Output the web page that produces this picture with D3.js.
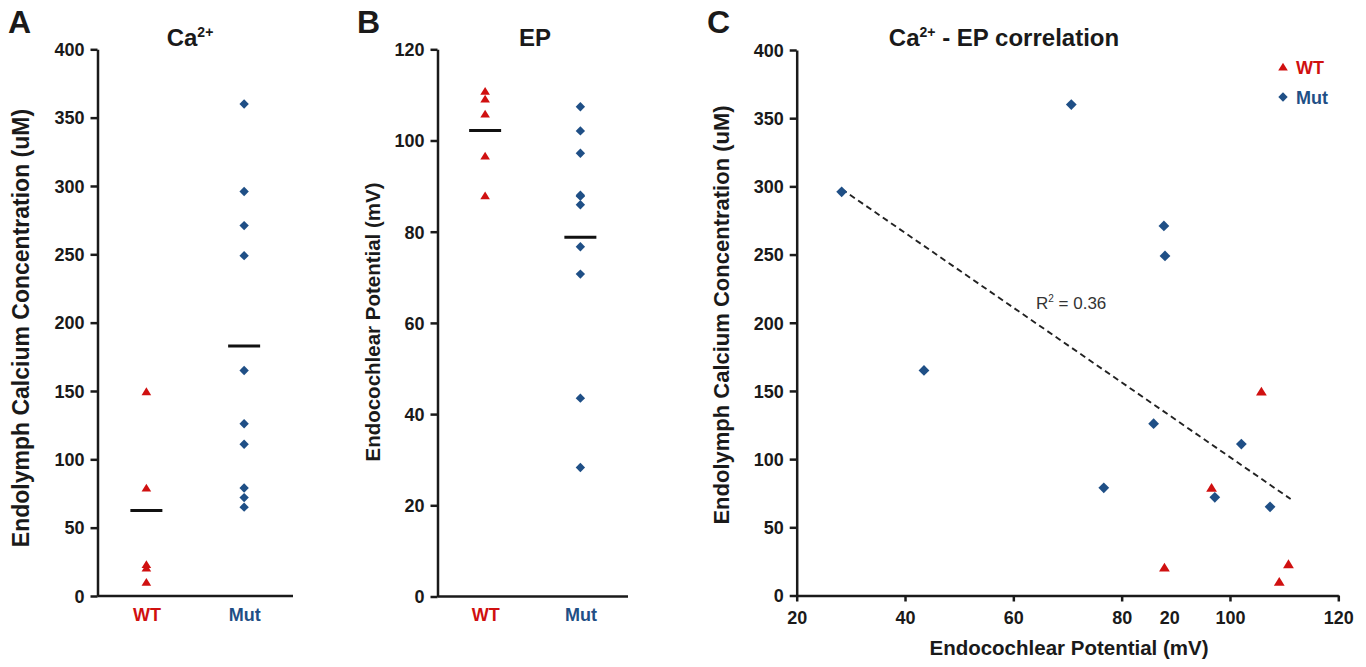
<!DOCTYPE html>
<html>
<head>
<meta charset="utf-8">
<script src="https://cdn.jsdelivr.net/npm/d3@7"></script>
<style>
  html, body { margin: 0; padding: 0; background: #fff; }
  svg { display: block; font-family: "Liberation Sans", Arial, sans-serif; }
  .axis path, .axis line { stroke: #1a1a1a; stroke-width: 2.5px; }
  .axis text { font-size: 18px; font-weight: bold; }
</style>
</head>
<body>
<svg id="chart" width="1366" height="667"></svg>
<script>
// ---------------- data ----------------
const groups = ["WT", "Mut"];
const wtCa = [149.5, 79, 23, 20.5, 10];
const wtEP = [105.8, 96.6, 110.8, 87.9, 109.1];
const mutCa = [360, 296, 271, 249, 165, 126, 111, 79, 72, 65];
const mutEP = [70.7, 28.3, 87.8, 88.0, 43.5, 85.9, 102.1, 76.7, 97.2, 107.4];
const caMeans = [62.5, 183];
const epMeans = [102.2, 78.8];
const caTicks = [0, 50, 100, 150, 200, 250, 300, 350, 400];
const epTicks = [0, 20, 40, 60, 80, 100, 120];
const epXTicks = [20, 40, 60, 80, 100, 120];
const extraXLabels = ["20"];
const extraXLabelAt = [88.9];
const r2Text = "0.36";

// ---------------- styles ----------------
const RED = "#d01010";
const BLUE = "#1f4f86";
const INK = "#1a1a1a";
const groupColor = {WT: RED, Mut: BLUE};

const svg = d3.select("#chart");

const diamond = { draw(ctx, size) { const r = Math.sqrt(size); ctx.moveTo(0, -r); ctx.lineTo(r, 0); ctx.lineTo(0, r); ctx.lineTo(-r, 0); ctx.closePath(); } };
const symDiamond = d3.symbol().type(diamond).size(29)();
const symDiamondSm = d3.symbol().type(diamond).size(22)();
const symTriangle = d3.symbol().type({ draw(ctx) { ctx.moveTo(0, -4.8); ctx.lineTo(5.4, 4); ctx.lineTo(-5.4, 4); ctx.closePath(); } })();
const symTriangleSm = d3.symbol().type({ draw(ctx) { ctx.moveTo(0, -4.3); ctx.lineTo(4.8, 3.5); ctx.lineTo(-4.8, 3.5); ctx.closePath(); } })();

function panelLetter(x, y, t) {
  svg.append("text").attr("x", x).attr("y", y).attr("font-size", 32).attr("font-weight", "bold")
     .attr("fill", INK).text(t);
}
function title(cx, y, parts) {
  const t = svg.append("text").attr("x", cx).attr("y", y).attr("text-anchor", "middle")
     .attr("font-size", 24).attr("font-weight", "bold").attr("fill", INK);
  parts.forEach(p => {
    const ts = t.append("tspan").text(p.t);
    if (p.sup) ts.attr("font-size", 14).attr("dy", -9);
    else if (p.after) ts.attr("dy", 9);
  });
}
function yLabel(x, cy, text, fs) {
  svg.append("text").attr("transform", `translate(${x},${cy}) rotate(-90)`)
     .attr("text-anchor", "middle").attr("font-size", fs).attr("font-weight", "bold")
     .attr("fill", INK).text(text);
}
function styleTicks(g) { g.selectAll("text").style("fill", INK).attr("dy", "0.35em"); }

// ---------------- Panel A ----------------
{
  const x0 = 97.5, x1 = 293, yTop = 49.3, yBot = 596;
  const y = d3.scaleLinear().domain([0, 400]).range([yBot, yTop]);
  const x = d3.scalePoint().domain(groups).range([x0, x1]).padding(0.5);
  svg.append("g").attr("class", "axis").attr("transform", `translate(${x0},0)`)
     .call(d3.axisLeft(y).tickValues(caTicks).tickSize(7).tickSizeOuter(0).tickPadding(6))
     .call(styleTicks);
  svg.append("g").attr("class", "axis").attr("transform", `translate(0,${yBot})`)
     .call(d3.axisBottom(x).tickSize(0).tickSizeOuter(0).tickPadding(12))
     .call(g => g.select(".domain").attr("d", `M${x0},0H${x1}`))
     .call(g => g.selectAll("text").style("fill", d => groupColor[d]));
  svg.append("g").selectAll("path").data(wtCa).join("path")
     .attr("d", symTriangleSm).attr("fill", RED)
     .attr("transform", d => `translate(${x("WT")},${y(d)})`);
  svg.append("g").selectAll("path").data(mutCa).join("path")
     .attr("d", symDiamondSm).attr("fill", BLUE)
     .attr("transform", d => `translate(${x("Mut")},${y(d)})`);
  svg.append("g").selectAll("line").data(caMeans).join("line")
     .attr("x1", (d, i) => x(groups[i]) - 16).attr("x2", (d, i) => x(groups[i]) + 16)
     .attr("y1", d => y(d)).attr("y2", d => y(d))
     .attr("stroke", "#111").attr("stroke-width", 3);
  panelLetter(8, 33, "A");
  title(190, 46, [{t: "Ca"}, {t: "2+", sup: true}]);
  yLabel(29, 328, "Endolymph Calcium Concentration (uM)", 23);
}

// ---------------- Panel B ----------------
{
  const x0 = 437.5, x1 = 628, yTop = 49.3, yBot = 596.5;
  const y = d3.scaleLinear().domain([0, 120]).range([yBot, yTop]);
  const x = d3.scalePoint().domain(groups).range([x0, x1]).padding(0.5);
  svg.append("g").attr("class", "axis").attr("transform", `translate(${x0},0)`)
     .call(d3.axisLeft(y).tickValues(epTicks).tickSize(7).tickSizeOuter(0).tickPadding(6))
     .call(styleTicks);
  svg.append("g").attr("class", "axis").attr("transform", `translate(0,${yBot})`)
     .call(d3.axisBottom(x).tickSize(0).tickSizeOuter(0).tickPadding(12))
     .call(g => g.select(".domain").attr("d", `M${x0},0H${x1}`))
     .call(g => g.selectAll("text").style("fill", d => groupColor[d]));
  svg.append("g").selectAll("path").data(wtEP).join("path")
     .attr("d", symTriangleSm).attr("fill", RED)
     .attr("transform", d => `translate(${x("WT")},${y(d)})`);
  svg.append("g").selectAll("path").data(mutEP).join("path")
     .attr("d", symDiamondSm).attr("fill", BLUE)
     .attr("transform", d => `translate(${x("Mut")},${y(d)})`);
  svg.append("g").selectAll("line").data(epMeans).join("line")
     .attr("x1", (d, i) => x(groups[i]) - 16).attr("x2", (d, i) => x(groups[i]) + 16)
     .attr("y1", d => y(d)).attr("y2", d => y(d))
     .attr("stroke", "#111").attr("stroke-width", 3);
  panelLetter(357, 33, "B");
  title(535, 46, [{t: "EP"}]);
  yLabel(380, 322, "Endocochlear Potential (mV)", 20.5);
}

// ---------------- Panel C ----------------
{
  const x0 = 796.7, x1 = 1338.3, yTop = 50, yBot = 595.5;
  const y = d3.scaleLinear().domain([0, 400]).range([yBot, yTop]);
  const x = d3.scaleLinear().domain([20, 120]).range([x0, x1]);
  svg.append("g").attr("class", "axis").attr("transform", `translate(${x0},0)`)
     .call(d3.axisLeft(y).tickValues(caTicks).tickSize(7).tickSizeOuter(0).tickPadding(6))
     .call(styleTicks);
  svg.append("g").attr("class", "axis").attr("transform", `translate(0,${yBot})`)
     .call(d3.axisBottom(x).tickValues(epXTicks).tickSize(6).tickSizeOuter(0).tickPadding(10))
     .call(g => g.selectAll("text").style("fill", INK));
  svg.append("g").selectAll("text").data(extraXLabels).join("text")
     .attr("x", (d, i) => x(extraXLabelAt[i])).attr("y", yBot + 16).attr("dy", "0.71em")
     .attr("text-anchor", "middle").attr("font-size", 18).attr("font-weight", "bold")
     .attr("fill", INK).text(d => d);

  // least-squares trend over all points
  const pts = wtEP.map((e, i) => [e, wtCa[i]]).concat(mutEP.map((e, i) => [e, mutCa[i]]));
  const mx = d3.mean(pts, p => p[0]), my = d3.mean(pts, p => p[1]);
  const slope = d3.sum(pts, p => (p[0] - mx) * (p[1] - my)) / d3.sum(pts, p => (p[0] - mx) ** 2);
  const icpt = my - slope * mx;
  const [ex0, ex1] = d3.extent(pts, p => p[0]);
  svg.append("line")
     .attr("x1", x(ex0)).attr("y1", y(icpt + slope * ex0))
     .attr("x2", x(ex1 + 0.4)).attr("y2", y(icpt + slope * (ex1 + 0.4)))
     .attr("stroke", "#222").attr("stroke-width", 1.9).attr("stroke-dasharray", "6,4");

  svg.append("g").selectAll("path").data(mutCa).join("path")
     .attr("d", symDiamond).attr("fill", BLUE)
     .attr("transform", (d, i) => `translate(${x(mutEP[i])},${y(d)})`);
  svg.append("g").selectAll("path").data(wtCa).join("path")
     .attr("d", symTriangle).attr("fill", RED)
     .attr("transform", (d, i) => `translate(${x(wtEP[i])},${y(d)})`);

  const r2 = svg.append("text").attr("x", 1036).attr("y", 309).attr("font-size", 17)
     .attr("fill", "#333");
  r2.append("tspan").text("R");
  r2.append("tspan").text("2").attr("font-size", 10).attr("dy", -7);
  r2.append("tspan").text(" = " + r2Text).attr("dy", 7);

  const leg = svg.append("g");
  const legItems = [{k: "WT", sym: symTriangleSm, y: 67}, {k: "Mut", sym: symDiamondSm, y: 97}];
  legItems.forEach(it => {
    leg.append("path").attr("d", it.sym).attr("fill", groupColor[it.k])
       .attr("transform", `translate(${1283},${it.y})`);
    leg.append("text").attr("x", 1296).attr("y", it.y + 6.5).attr("font-size", 18)
       .attr("font-weight", "bold").attr("fill", groupColor[it.k]).text(it.k);
  });

  panelLetter(707, 33, "C");
  title(1004, 46, [{t: "Ca"}, {t: "2+", sup: true}, {t: " - EP correlation", after: true}]);
  yLabel(729, 315, "Endolymph Calcium Concentration (uM)", 22);
  svg.append("text").attr("x", 1069).attr("y", 655).attr("text-anchor", "middle")
     .attr("font-size", 20.5).attr("font-weight", "bold").attr("fill", INK)
     .text("Endocochlear Potential (mV)");
}
</script>
</body>
</html>
